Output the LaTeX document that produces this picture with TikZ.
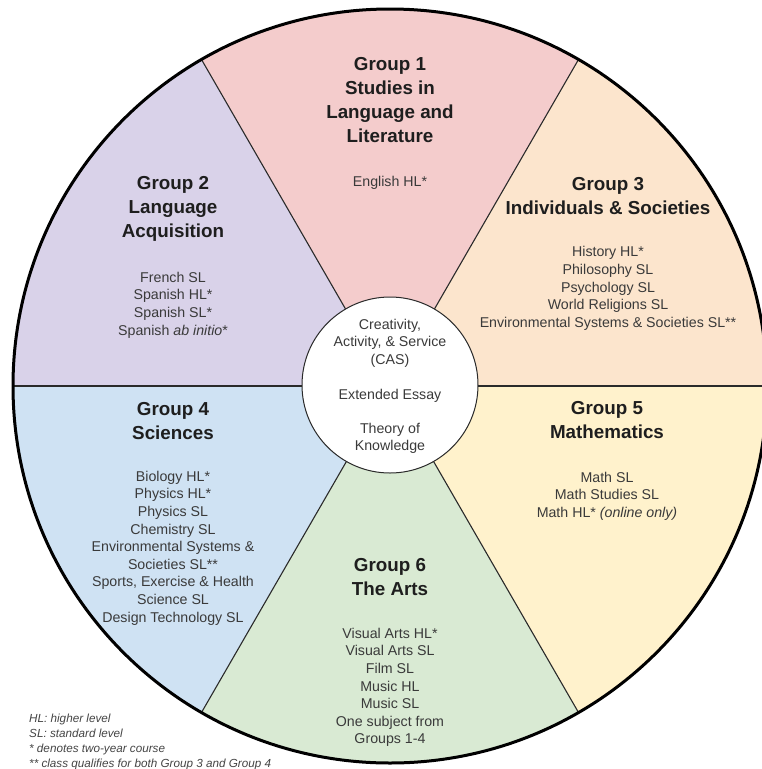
\documentclass[tikz,border=0pt]{standalone}
\usepackage{fontspec}
\setmainfont{Liberation Sans}
\definecolor{gone}{HTML}{F4CCCC}
\definecolor{gtwo}{HTML}{D9D2E9}
\definecolor{gthree}{HTML}{FCE5CD}
\definecolor{gfour}{HTML}{CFE2F3}
\definecolor{gfive}{HTML}{FFF2CC}
\definecolor{gsix}{HTML}{D9EAD3}
\definecolor{headc}{HTML}{1E1E1E}
\definecolor{bodyc}{HTML}{3A3A3A}
\definecolor{legc}{HTML}{444444}
\definecolor{linec}{HTML}{2A2A2A}
\begin{document}
\begin{tikzpicture}[x=1pt,y=1pt,
  head/.style={font=\fontsize{18.8}{24}\selectfont\bfseries, text=headc, align=center, inner sep=0pt},
  body/.style={font=\fontsize{14.2}{17.6}\selectfont, text=bodyc, align=center, inner sep=0pt},
  legend/.style={font=\fontsize{11.7}{12}\selectfont\itshape, text=legc, anchor=base west, inner sep=0pt},
  divider/.style={draw=linec, line width=1.1pt},
  rim/.style={draw=black, line width=3pt},
  core/.style={circle, draw=linec, line width=1pt, fill=white, minimum size=176pt, inner sep=0pt}]
\useasboundingbox (0,0) rectangle (762,-769);
\coordinate (C) at (390,-386);
\begin{scope}[shift={(C)}]
  \foreach \a in {0,60,...,300} {\coordinate (a\a) at (\a:377pt);}
  \fill[gthree] (0,0) -- (0:377pt) arc[start angle=0, end angle=60, radius=377pt] -- cycle;
  \fill[gone] (0,0) -- (60:377pt) arc[start angle=60, end angle=120, radius=377pt] -- cycle;
  \fill[gtwo] (0,0) -- (120:377pt) arc[start angle=120, end angle=180, radius=377pt] -- cycle;
  \fill[gfour] (0,0) -- (180:377pt) arc[start angle=180, end angle=240, radius=377pt] -- cycle;
  \fill[gsix] (0,0) -- (240:377pt) arc[start angle=240, end angle=300, radius=377pt] -- cycle;
  \fill[gfive] (0,0) -- (300:377pt) arc[start angle=300, end angle=360, radius=377pt] -- cycle;
\end{scope}
\draw[divider] (a0) -- (a180);
\draw[divider] (a60) -- (a240);
\draw[divider] (a120) -- (a300);
\draw[rim] (C) circle[radius=377pt];
\node[core] (hub) at (390,-385) {};

% Group 1
\node[head] (h1) at (390,-100) {Group 1\\Studies in\\Language and\\Literature};
\node[body] (b1) at (390,-183) {English HL*};
% Group 2
\node[head] (h2) at (173,-209) {Group 2\\Language\\Acquisition};
\node[body] (b2) at (173,-305) {French SL\\Spanish HL*\\Spanish SL*\\Spanish \textit{ab initio}*};
% Group 3
\node[head] (h3) at (608,-196.5) {Group 3\\Individuals \& Societies};
\node[body] (b3) at (608,-288.5) {History HL*\\Philosophy SL\\Psychology SL\\World Religions SL\\Environmental Systems \& Societies SL**};
% Group 4
\node[head] (h4) at (173,-421.5) {Group 4\\Sciences};
\node[body] (b4) at (173,-548) {Biology HL*\\Physics HL*\\Physics SL\\Chemistry SL\\Environmental Systems \&\\Societies SL**\\Sports, Exercise \& Health\\Science SL\\Design Technology SL};
% Group 5
\node[head] (h5) at (607,-420) {Group 5\\Mathematics};
\node[body] (b5) at (607,-496) {Math SL\\Math Studies SL\\Math HL* \textit{(online only)}};
% Group 6
\node[head] (h6) at (390,-577.5) {Group 6\\The Arts};
\node[body] (b6) at (390,-687.5) {Visual Arts HL*\\Visual Arts SL\\Film SL\\Music HL\\Music SL\\One subject from\\Groups 1-4};
% Core
\node[body] (cas) at (390,-343) {Creativity,\\Activity, \& Service\\(CAS)};
\node[body] (ee) at (390,-396) {Extended Essay};
\node[body] (tok) at (390,-438.5) {Theory of\\Knowledge};
% Legend
\node[legend] (l1) at (29,-722.5) {HL: higher level};
\node[legend] (l2) at (29,-737.5) {SL: standard level};
\node[legend] (l3) at (29,-752.5) {* denotes two-year course};
\node[legend] (l4) at (29,-767.5) {** class qualifies for both Group 3 and Group 4};
\end{tikzpicture}
\end{document}
